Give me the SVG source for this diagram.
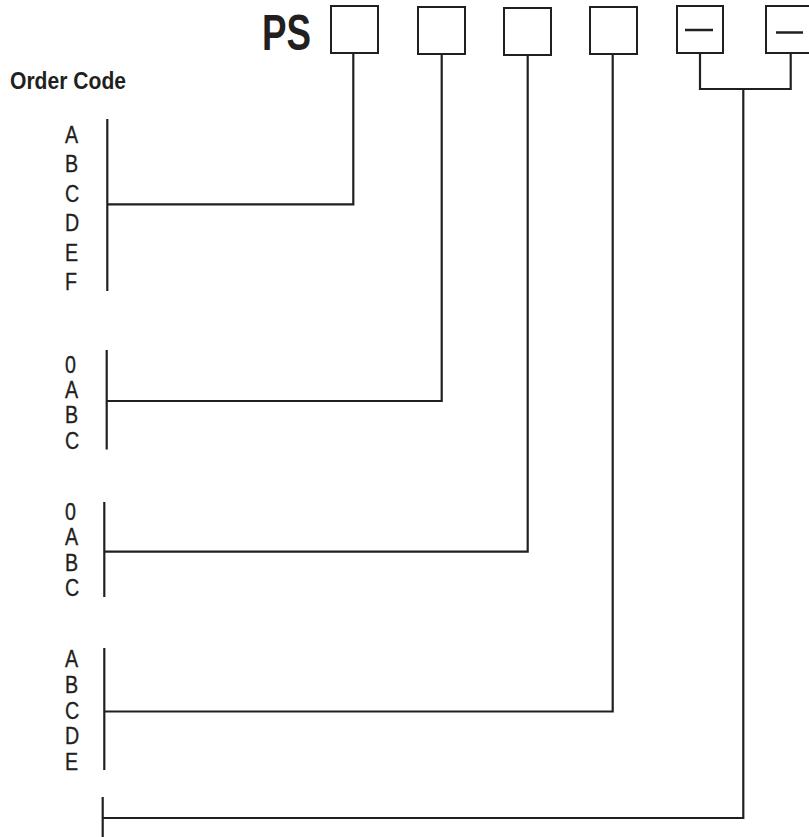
<svg xmlns="http://www.w3.org/2000/svg" width="809" height="837" viewBox="0 0 809 837">
  <style>
    .box { fill: #ffffff; stroke: #231f20; stroke-width: 2; }
    .dash { stroke: #231f20; stroke-width: 2.5; }
    .wire { fill: none; stroke: #231f20; stroke-width: 2.2; stroke-linejoin: miter; stroke-linecap: butt; }
    .title { font-family: "Liberation Sans", Arial, sans-serif; font-weight: bold; fill: #231f20; }
    .code { font-family: "Liberation Sans", Arial, sans-serif; font-size: 24px; fill: #231f20; stroke: #231f20; stroke-width: 0.35; }
  </style>
  <rect width="809" height="837" fill="#ffffff"/>

  <g id="title">
    <text class="title" x="262" y="50" font-size="50" textLength="49" lengthAdjust="spacingAndGlyphs">PS</text>
  </g>
  <g id="order-code-label">
    <text class="title" x="10" y="89" font-size="24.5" textLength="116" lengthAdjust="spacingAndGlyphs">Order Code</text>
  </g>

  <g id="box1"><rect class="box" x="331" y="6" width="47" height="47"/></g>
  <g id="box2"><rect class="box" x="418" y="7" width="47" height="47"/></g>
  <g id="box3"><rect class="box" x="504" y="8" width="47" height="47"/></g>
  <g id="box4"><rect class="box" x="590" y="7" width="47" height="47"/></g>
  <g id="box5"><rect class="box" x="677" y="6" width="46" height="47"/><line class="dash" x1="685" y1="30" x2="713" y2="30"/></g>
  <g id="box6"><rect class="box" x="766" y="6" width="47" height="47"/><line class="dash" x1="776" y1="32.5" x2="803" y2="32.5"/></g>

  <g id="group1" transform="translate(65,0) scale(0.82,1)">
    <text class="code" x="0" y="143" font-size="25">A</text>
    <text class="code" x="0" y="172.4" font-size="25">B</text>
    <text class="code" x="0" y="201.8" font-size="25">C</text>
    <text class="code" x="0" y="231.2" font-size="25">D</text>
    <text class="code" x="0" y="260.6" font-size="25">E</text>
    <text class="code" x="0" y="290" font-size="25">F</text>
  </g>
  <g id="group2" transform="translate(65,0) scale(0.82,1)">
    <text class="code" x="0" y="373">0</text>
    <text class="code" x="0" y="398.2">A</text>
    <text class="code" x="0" y="423.4">B</text>
    <text class="code" x="0" y="448.6">C</text>
  </g>
  <g id="group3" transform="translate(65,0) scale(0.82,1)">
    <text class="code" x="0" y="520">0</text>
    <text class="code" x="0" y="545.5">A</text>
    <text class="code" x="0" y="571">B</text>
    <text class="code" x="0" y="596.5">C</text>
  </g>
  <g id="group4" transform="translate(65,0) scale(0.82,1)">
    <text class="code" x="0" y="667">A</text>
    <text class="code" x="0" y="692.8">B</text>
    <text class="code" x="0" y="718.6">C</text>
    <text class="code" x="0" y="744.4">D</text>
    <text class="code" x="0" y="770">E</text>
  </g>

  <g id="connectors">
    <line class="wire" x1="107.3" y1="119" x2="107.3" y2="291"/>
    <polyline class="wire" points="107.3,204.3 353.3,204.3 353.3,53"/>

    <line class="wire" x1="106.7" y1="350" x2="106.7" y2="449.5"/>
    <polyline class="wire" points="106.7,401 441.7,401 441.7,54"/>

    <line class="wire" x1="104.3" y1="502" x2="104.3" y2="597"/>
    <polyline class="wire" points="104.3,551.7 527.7,551.7 527.7,55"/>

    <line class="wire" x1="104.3" y1="648" x2="104.3" y2="770"/>
    <polyline class="wire" points="104.3,711.5 612.7,711.5 612.7,54"/>

    <line class="wire" x1="102.7" y1="797" x2="102.7" y2="837"/>
    <polyline class="wire" points="102.7,818 743.3,818 743.3,89"/>

    <polyline class="wire" points="700,53 700,89 790.7,89 790.7,53"/>
  </g>
</svg>
